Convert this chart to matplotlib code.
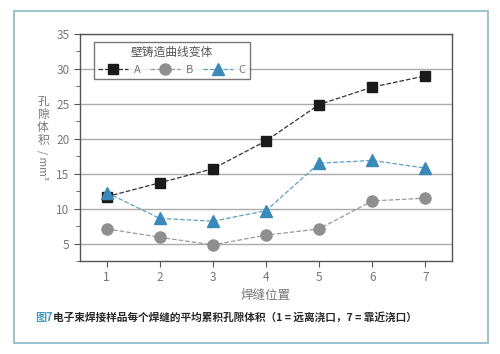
import matplotlib.pyplot as plt
from matplotlib.patches import Rectangle

plt.rcParams['font.family'] = ['Noto Sans CJK SC', 'DejaVu Sans']

# weld positions and pore volumes (mm³) per wall casting curve variant
positions = [1, 2, 3, 4, 5, 6, 7]
vol_a = [11.7, 13.7, 15.7, 19.7, 24.9, 27.4, 29.0]
vol_b = [7.1, 5.9, 4.8, 6.2, 7.1, 11.1, 11.5]
vol_c = [12.3, 8.6, 8.2, 9.7, 16.5, 16.9, 15.8]
y_ticks = [5, 10, 15, 20, 25, 30, 35]

fig = plt.figure(figsize=(5, 3.54), dpi=100)
ax = fig.add_axes([80 / 500, 1 - 261 / 354, 372 / 500, 227 / 354])

# light blue frame round the whole figure
fig.patches.append(Rectangle((14 / 500, 1 - 343 / 354), 474 / 500, 332 / 354,
                             transform=fig.transFigure, fill=False,
                             edgecolor='#8db5c6', linewidth=1.2))

ax.plot(positions, vol_a, ls='--', lw=0.9, color='#333333', marker='s',
        ms=7, mfc='#1a1a1a', mec='#1a1a1a', label='A', zorder=3)
ax.plot(positions, vol_b, ls='--', lw=0.9, color='#9a9a9a', marker='o',
        ms=8, mfc='#8f8f8f', mec='#8f8f8f', label='B', zorder=3)
ax.plot(positions, vol_c, ls='--', lw=0.9, color='#5fa0c4', marker='^',
        ms=9, mfc='#3a89b8', mec='#3a89b8', label='C', zorder=3)

ax.set_xlim(0.5, 7.5)
ax.set_ylim(2.7, 35)
ax.set_xticks(positions)
ax.set_yticks(y_ticks)
ax.set_yticks([2.5 + 5 * i for i in range(7)], minor=True)
ax.yaxis.grid(True, color='#ababab', lw=1.0)
ax.set_axisbelow(True)
ax.tick_params(axis='both', direction='out', colors='#555555', labelcolor='#777777',
               labelsize=8.5, length=4)
ax.tick_params(axis='y', which='minor', length=3, colors='#555555')
for s in ax.spines.values():
    s.set_color('#555555')
    s.set_linewidth(1.0)

ax.set_xlabel('焊缝位置', color='#777777', fontsize=9, labelpad=3)

# vertical stacked y label
fig.text(43 / 500, 1 - 95 / 354, '孔\n隙\n体\n积', color='#777777', fontsize=8.5,
         ha='center', va='top', linespacing=1.0)
fig.text(43 / 500, 1 - 150 / 354, '/ mm³', color='#777777', fontsize=7.5,
         ha='center', va='top', rotation=-90)

leg = ax.legend(title='壁铸造曲线变体', ncol=3, loc='upper left',
                bbox_to_anchor=(0.022, 0.99), frameon=True, fancybox=False,
                fontsize=8, title_fontsize=8.5, handlelength=2.7,
                columnspacing=0.9, handletextpad=0.5, borderpad=0.4)
leg.get_frame().set_edgecolor('#555555')
leg.get_frame().set_linewidth(1.0)
leg.get_title().set_color('#555555')
for t in leg.get_texts():
    t.set_color('#777777')

# caption
fig.text(35 / 500, 1 - 317 / 354, '图7', color='#4a9cc0', fontsize=8,
         fontweight='bold', va='center')
fig.text(53 / 500, 1 - 317 / 354,
         '电子束焊接样品每个焊缝的平均累积孔隙体积（1 = 远离浇口，7 = 靠近浇口）',
         color='#2a2a2a', fontsize=7.7, fontweight='bold', va='center')

fig.savefig('out.png', dpi=100)
